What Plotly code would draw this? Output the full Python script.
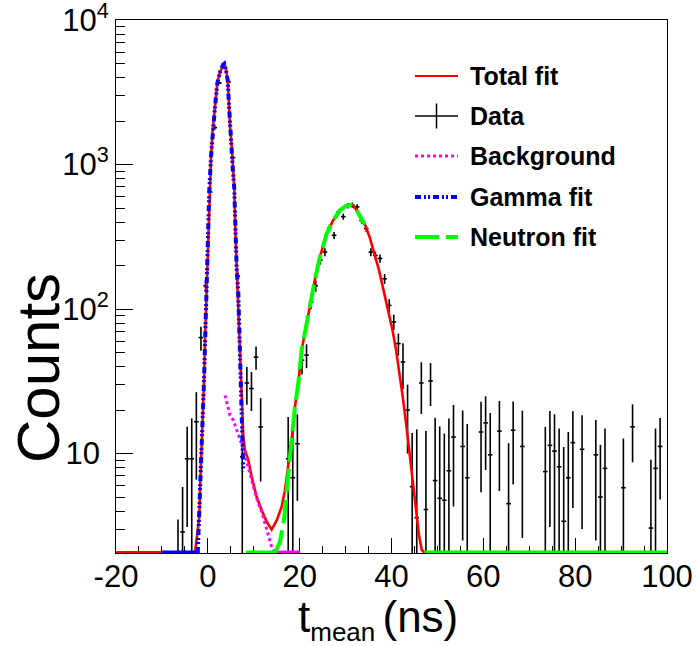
import plotly.graph_objects as go

# ---------------- data ----------------
# histogram bins (1 ns wide, -20..100 ns); only non-empty bins are listed
bin_center = [-6.5, -5.5, -4.5, -3.5, -2.5, -1.5, -0.5, 0.5, 1.5, 2.5, 3.5, 4.5, 5.5, 6.5,
              7.5, 8.5, 9.5, 10.5, 11.5,
              17.5, 18.5, 19.5, 20.5, 21.5, 22.5, 23.5, 24.5, 25.5, 26.5, 27.5, 28.5, 29.5,
              30.5, 31.5, 32.5, 33.5, 34.5, 35.5, 36.5, 37.5, 38.5, 39.5, 40.5, 41.5, 42.5,
              43.5, 44.5, 45.5, 46.5, 47.5, 48.5, 49.5, 50.5, 51.5, 52.5, 53.5,
              55.5, 56.5, 59.5, 60.5, 61.5, 63.5, 65.5, 66.5, 68.5,
              73.5, 74.5, 75.5, 76.5, 77.5, 78.5, 79.5, 81.5, 84.5, 85.5, 86.5,
              90.5, 92.5, 96.5, 97.5, 98.5]
counts = [1.2, 2.87, 9.2, 9.2, 16.6, 63.5, 145, 646, 1800, 3670, 4900, 3730, 1117, 169,
          9.5, 30.8, 28.2, 46.5, 15.3,
          9.2, 6.8, 11.7, 44.3, 48, 112, 145, 218, 248, 365, 324, 470, 436,
          520, 523, 509, 410, 361, 248, 235, 224, 162, 106, 81.5, 57.7, 43,
          20, 5.9, 3.6, 30.8, 4.1, 31.8, 6.5, 4.9, 4.75, 7.6, 13.0,
          11.2, 6.8, 14.1, 16.3, 9.8, 14.3, 4.5, 14.5, 11.2,
          7.5, 11.4, 10.4, 8.1, 3.4, 6.8, 11.9, 10.7, 9.8, 5.0, 7.9,
          5.8, 15.3, 3.05, 7.9, 11.2]
count_err = [2.3, 3.0, 6.1, 8.3, 10, 12, 14, 28, 45, 62, 72, 62, 35, 14,
             8.5, 9, 8.5, 8.5, 8.9,
             8.7, 11, 7, 9, 9, 12, 13, 15, 16, 19, 18, 22, 21,
             23, 23, 23, 20, 19, 16, 15, 15, 13, 11, 10, 10, 15,
             10, 8, 11.1, 12, 10.2, 10.5, 11.2, 10.5, 9, 9.9, 8.7,
             8.7, 9.2, 8.7, 8.6, 9.3, 8.8, 7.3, 8.4, 8.6,
             7.8, 8.3, 8.3, 6.8, 7.7, 7.3, 7.7, 7.7, 7.3, 6.5, 7.0,
             6.9, 6.6, 6.0, 7.0, 6.4]
bin_half_width = [0.5] * len(bin_center)

# fit curves
total_t = [-2.8, -2.43, -1.86, -1.71, -1.34, -1.12, -0.83, -0.62, -0.3, -0.12, 0.1, 0.32,
           0.69, 1.05, 1.56, 2.06, 2.64, 3.37, 3.59, 3.89, 4.33, 4.61, 4.83, 5.2, 5.41, 5.76,
           6.06, 6.28, 6.63, 6.85, 7.0, 7.37, 7.72, 8.09, 8.81, 9.55, 10.64, 11.73, 12.67,
           13.54, 13.9, 15.0, 16.06, 16.8, 17.5, 18.25, 18.97, 19.7, 20.43, 21.5, 22.25,
           23.3, 24.4, 25.9, 27.3, 28.8, 30.0, 31.2, 32.2, 33.2, 34.2, 35.2, 36.2, 37.2,
           38.2, 39.2, 40.2, 41.0, 41.8, 42.5, 43.3, 44.0, 44.7, 45.4, 46.0, 46.6, 47.3]
total_y = [2.05, 2.65, 3.64, 5.6, 10.5, 17.9, 32, 61, 128, 242, 370, 664,
           1130, 1727, 2504, 3640, 4375, 4940, 5000, 4615, 3830, 2570, 1820, 1324, 962, 682,
           299, 191, 130, 79, 49, 23.4, 13, 10.5, 9.0, 6.9, 5.0, 4.05, 3.45,
           3.1, 2.98, 3.45, 4.27, 5.57, 8.07, 12.4, 21, 30.5, 52, 80, 109,
           158, 229, 333, 412, 483, 515, 525, 495, 440, 385, 318, 250, 190,
           138, 100, 72, 52, 35, 24, 15, 9.5, 6.5, 4.0, 2.7, 2.15, 2.05]

gamma_t = [-2.2, -1.86, -1.71, -1.34, -1.12, -0.83, -0.62, -0.3, -0.12, 0.1, 0.32, 0.69,
           1.05, 1.56, 2.06, 2.64, 3.37, 3.59, 3.89, 4.33, 4.61, 4.83, 5.2, 5.41, 5.76, 6.06,
           6.28, 6.63, 6.85, 7.0, 7.37, 7.72]
gamma_y = [2.05, 3.64, 5.6, 10.5, 17.9, 32, 61, 128, 242, 370, 664, 1130,
           1727, 2504, 3640, 4375, 4940, 5000, 4615, 3830, 2570, 1820, 1324, 962, 682, 299,
           191, 130, 79, 45, 20, 7.5]

bkg_t = [3.74, 4.83, 5.55, 6.85, 7.72, 8.6, 9.55, 10.64, 11.73, 13.17, 13.85, 14.5]
bkg_y = [25.3, 18.4, 17, 12.7, 10.8, 8.5, 6.5, 4.9, 3.95, 2.72, 2.29, 2.05]

neutron_t = [14.6, 15.7, 16.6, 17.5, 18.25, 18.97, 19.7, 20.43, 21.5, 22.25, 23.3, 24.4,
             25.9, 27.3, 28.8, 30.0, 31.2, 32.2, 33.2, 34.2]
neutron_y = [2.05, 2.44, 3.5, 7.5, 12.4, 21, 30.5, 52, 80, 109, 158, 229,
             333, 412, 483, 515, 525, 495, 440, 385]

# t-ranges where each curve lies below the axis minimum and is drawn on the lower frame
total_floor = [[-20, -2.8], [47.3, 100]]
gamma_floor = [[-10, -2.2]]
bkg_floor = [[14.5, 20.1]]
neutron_floor = [[8.3, 14.6], [47.2, 100]]

x_tickvals = [-20, 0, 20, 40, 60, 80, 100]
x_ticktext = ["-20", "0", "20", "40", "60", "80", "100"]
y_tickvals = [10, 100, 1000, 10000]
y_ticktext = ["10\u2009\u200a", "10<sup>2</sup>", "10<sup>3</sup>", "10<sup>4</sup>"]
y_minor_vals = [m * 10 ** k for k in range(0, 4) for m in range(2, 10)]

legend_labels = ["Total fit", "Data", "Background", "Gamma fit", "Neutron fit"]

# ---------------- styling ----------------
Y_LO = 2.05
FONT = "Liberation Sans, Arial, Helvetica, sans-serif"
RED, BLUE, MAGENTA, GREEN = "#ff0000", "#0000ff", "#ff00ff", "#00ff00"
BLUE_DASH = "6px,3px,2px,2px,2px,3px"
GREEN_DASH = "24px,7px"
MAG_DASH = "3px,3px"

err_minus = [e if c - e > 1.0 else max(c - 1.0, 0.5 * c) for c, e in zip(counts, count_err)]

fig = go.Figure()
fig.add_trace(go.Scatter(
    x=bin_center, y=counts, mode="markers",
    marker=dict(size=1, color="black"),
    error_y=dict(type="data", array=count_err, arrayminus=err_minus, symmetric=False,
                 color="black", thickness=1.6, width=0),
    error_x=dict(type="data", array=bin_half_width, color="black", thickness=1.6, width=0),
    showlegend=False, name="Data"))


def add_floor(ranges, color, width):
    xs, ys = [], []
    for a, b in ranges:
        xs += [a, b, None]
        ys += [Y_LO, Y_LO, None]
    fig.add_trace(go.Scatter(x=xs, y=ys, mode="lines", connectgaps=False,
                             line=dict(color=color, width=width), showlegend=False,
                             hoverinfo="skip"))


add_floor(total_floor, RED, 4)
fig.add_trace(go.Scatter(x=total_t, y=total_y, mode="lines",
                         line=dict(color=RED, width=2.6), showlegend=False, name="Total fit"))
add_floor(bkg_floor, MAGENTA, 5)
fig.add_trace(go.Scatter(x=bkg_t, y=bkg_y, mode="lines",
                         line=dict(color=MAGENTA, width=3, dash=MAG_DASH),
                         showlegend=False, name="Background"))
add_floor(gamma_floor, BLUE, 5)
fig.add_trace(go.Scatter(x=gamma_t, y=gamma_y, mode="lines",
                         line=dict(color=BLUE, width=4, dash=BLUE_DASH),
                         showlegend=False, name="Gamma fit"))
add_floor(neutron_floor, GREEN, 5)
fig.add_trace(go.Scatter(x=neutron_t, y=neutron_y, mode="lines",
                         line=dict(color=GREEN, width=4, dash=GREEN_DASH),
                         showlegend=False, name="Neutron fit"))

# ---------------- layout ----------------
L, R, T, B = 116, 29, 20, 93
W, H = 696, 646
PW, PH = W - L - R, H - T - B


def px_x(px):
    return (px - L) / PW


def px_y(py):
    return (H - B - py) / PH


axis_common = dict(showline=True, linecolor="black", linewidth=1, mirror=True,
                   ticks="inside", tickcolor="black", tickwidth=1, showgrid=False,
                   zeroline=False, tickfont=dict(family=FONT, size=31, color="black"),
                   layer="below traces", automargin=False, ticklabeloverflow="allow")

fig.update_layout(
    width=W, height=H, margin=dict(l=L, r=R, t=T, b=B, autoexpand=False),
    paper_bgcolor="white", plot_bgcolor="white", showlegend=False,
    xaxis=dict(range=[-20, 100], tickmode="array", tickvals=x_tickvals, ticktext=x_ticktext,
               ticklen=15, ticklabelstandoff=-4,
               minor=dict(ticks="inside", ticklen=7, dtick=5, tick0=0,
                          tickcolor="black", tickwidth=1, showgrid=False),
               **axis_common),
    yaxis=dict(type="log", range=[0.3118, 4.0005], tickmode="array", tickvals=y_tickvals,
               ticktext=y_ticktext, ticklen=17,
               minor=dict(ticks="inside", ticklen=9, tickmode="array", tickvals=y_minor_vals,
                          tickcolor="black", tickwidth=1, showgrid=False),
               **axis_common),
)

# axis titles
annotations = [
    dict(text="t<sub><span style='font-size:26px'>mean </span></sub>(ns)",
         x=px_x(378), y=px_y(619), xref="paper", yref="paper",
         xanchor="center", yanchor="middle", showarrow=False,
         font=dict(family=FONT, size=44, color="black")),
    dict(text="Counts", x=px_x(38), y=px_y(368), xref="paper", yref="paper",
         xanchor="center", yanchor="middle", showarrow=False, textangle=-90,
         font=dict(family=FONT, size=60, color="black")),
]

# legend (drawn by hand, ROOT style)
rows = [76, 116, 156, 197, 237]
shapes = []
sx0, sx1 = px_x(415), px_x(458)
styles = [dict(color=RED, width=2.2),
          dict(color="black", width=1.5),
          dict(color=MAGENTA, width=3, dash=MAG_DASH),
          dict(color=BLUE, width=4, dash=BLUE_DASH),
          dict(color=GREEN, width=4, dash=GREEN_DASH)]
for py, st, lab in zip(rows, styles, legend_labels):
    shapes.append(dict(type="line", xref="paper", yref="paper", x0=sx0, x1=sx1,
                       y0=px_y(py), y1=px_y(py), line=st))
    annotations.append(dict(text=lab, x=px_x(468), y=px_y(py), xref="paper", yref="paper",
                            xanchor="left", yanchor="middle", showarrow=False,
                            font=dict(family=FONT, size=25, color="black", weight="bold")))
shapes.append(dict(type="line", xref="paper", yref="paper", x0=px_x(436.5), x1=px_x(436.5),
                   y0=px_y(103.5), y1=px_y(128.5), line=dict(color="black", width=1.5)))

fig.update_layout(annotations=annotations, shapes=shapes)
fig.write_html("out.html")
